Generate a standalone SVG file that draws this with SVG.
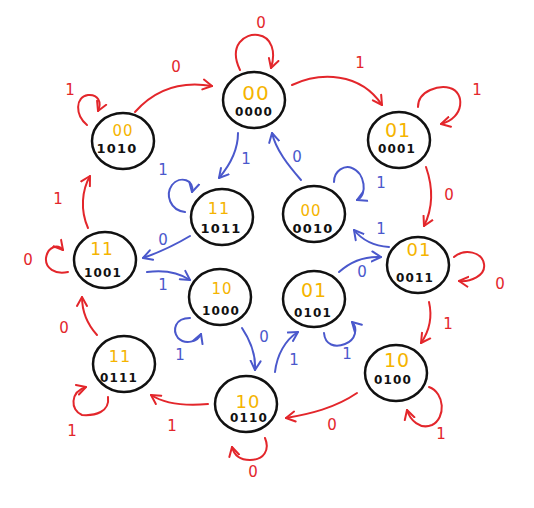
<svg xmlns="http://www.w3.org/2000/svg" width="534" height="508" viewBox="0 0 534 508">
<style>
.node ellipse{fill:#fff;stroke:#111;stroke-width:2.5}
.t{font-family:"DejaVu Sans",sans-serif;fill:#f5b400;text-anchor:middle;letter-spacing:1px}
.b{font-family:"DejaVu Sans",sans-serif;fill:#111;text-anchor:middle;font-weight:bold;letter-spacing:1.2px}
.r{fill:none;stroke:#e3262b;stroke-width:2;stroke-linecap:round;marker-end:url(#ar)}
.u{fill:none;stroke:#4a58cc;stroke-width:2;stroke-linecap:round;marker-end:url(#ab)}
.lr{font-family:"DejaVu Sans",sans-serif;font-size:15px;fill:#e3262b;text-anchor:middle}
.lb{font-family:"DejaVu Sans",sans-serif;font-size:15px;fill:#4a58cc;text-anchor:middle}
</style>
<defs>
<marker id="ar" markerUnits="userSpaceOnUse" markerWidth="14" markerHeight="14" refX="10" refY="6" orient="auto" viewBox="0 0 14 12">
<path d="M1,1 L10,6 L1,11" fill="none" stroke="#e3262b" stroke-width="2" stroke-linecap="round" stroke-linejoin="round"/>
</marker>
<marker id="ab" markerUnits="userSpaceOnUse" markerWidth="14" markerHeight="14" refX="10" refY="6" orient="auto" viewBox="0 0 14 12">
<path d="M1,1 L10,6 L1,11" fill="none" stroke="#4a58cc" stroke-width="2" stroke-linecap="round" stroke-linejoin="round"/>
</marker>
</defs>
<rect width="534" height="508" fill="#fff"/>
<g id="connectors">
<path class="r" d="M135,112 Q165,78 212,86"/>
<path class="r" d="M240,70 C228,45 245,33 258,35 C272,37 276,52 271,68"/>
<path class="r" d="M292,85 C320,72 360,72 382,105"/>
<path class="r" d="M418,107 C418,90 440,85 450,88 C465,92 465,118 441,124"/>
<path class="r" d="M426,167 C434,190 432,210 424,226"/>
<path class="r" d="M454,257 C465,248 482,252 484,264 C486,276 470,282 459,281"/>
<path class="r" d="M429,302 C432,315 430,330 421,343"/>
<path class="r" d="M429,387 C445,393 446,418 432,425 C420,430 410,420 407,410"/>
<path class="r" d="M357,393 C335,408 310,414 286,418"/>
<path class="r" d="M265,438 C270,450 264,460 250,460 C240,460 234,455 232,447"/>
<path class="r" d="M208,404 C185,406 165,404 151,395"/>
<path class="r" d="M108,397 C110,412 95,416 82,415 C70,410 70,392 86,387"/>
<path class="r" d="M97,335 C88,325 82,312 82,297"/>
<path class="r" d="M68,272 C55,275 45,268 46,258 C48,246 58,244 63,250"/>
<path class="r" d="M88,228 C80,210 82,190 90,176"/>
<path class="r" d="M87,125 C75,115 75,97 88,95 C98,94 102,102 98,111"/>
<path class="u" d="M238,133 C238,150 230,165 219,178"/>
<path class="u" d="M301,180 C288,165 276,150 272,133"/>
<path class="u" d="M334,182 C334,170 345,165 352,168 C365,173 368,195 357,200"/>
<path class="u" d="M185,212 C170,210 165,195 172,185 C180,175 195,180 192,192"/>
<path class="u" d="M190,236 C175,245 160,252 143,258"/>
<path class="u" d="M147,272 C162,270 178,272 190,280"/>
<path class="u" d="M190,318 C175,318 172,330 178,338 C185,345 198,342 201,334"/>
<path class="u" d="M242,328 C250,340 256,355 255,370"/>
<path class="u" d="M275,372 C277,355 285,340 298,332"/>
<path class="u" d="M324,333 C325,345 335,348 345,344 C356,340 358,328 352,322"/>
<path class="u" d="M339,272 C350,262 365,256 381,257"/>
<path class="u" d="M389,247 C375,246 362,240 354,230"/>
<text class="lr" x="176" y="72">0</text>
<text class="lr" x="261" y="28">0</text>
<text class="lr" x="360" y="68">1</text>
<text class="lr" x="477" y="95">1</text>
<text class="lr" x="449" y="200">0</text>
<text class="lr" x="500" y="289">0</text>
<text class="lr" x="448" y="329">1</text>
<text class="lr" x="441" y="439">1</text>
<text class="lr" x="332" y="430">0</text>
<text class="lr" x="253" y="477">0</text>
<text class="lr" x="172" y="431">1</text>
<text class="lr" x="72" y="436">1</text>
<text class="lr" x="64" y="333">0</text>
<text class="lr" x="28" y="265">0</text>
<text class="lr" x="58" y="204">1</text>
<text class="lr" x="70" y="95">1</text>
<text class="lb" x="246" y="164">1</text>
<text class="lb" x="297" y="162">0</text>
<text class="lb" x="381" y="188">1</text>
<text class="lb" x="163" y="175">1</text>
<text class="lb" x="163" y="245">0</text>
<text class="lb" x="163" y="290">1</text>
<text class="lb" x="180" y="360">1</text>
<text class="lb" x="264" y="342">0</text>
<text class="lb" x="294" y="365">1</text>
<text class="lb" x="347" y="359">1</text>
<text class="lb" x="362" y="277">0</text>
<text class="lb" x="381" y="234">1</text>
</g>
<g id="n0000" class="node"><ellipse cx="254" cy="100" rx="31" ry="28"/><text class="t" x="256" y="100" font-size="20">00</text><text class="b" x="254" y="116" font-size="12">0000</text></g>
<g id="n1010" class="node"><ellipse cx="123" cy="141" rx="31" ry="28"/><text class="t" x="123" y="136" font-size="15">00</text><text class="b" x="117" y="153" font-size="13">1010</text></g>
<g id="n0001" class="node"><ellipse cx="399" cy="140" rx="31" ry="28"/><text class="t" x="398" y="137" font-size="19">01</text><text class="b" x="397" y="153" font-size="12">0001</text></g>
<g id="n1011" class="node"><ellipse cx="222" cy="217" rx="31" ry="28"/><text class="t" x="219" y="214" font-size="16">11</text><text class="b" x="221" y="233" font-size="13">1011</text></g>
<g id="n0010" class="node"><ellipse cx="314" cy="214" rx="31" ry="28"/><text class="t" x="311" y="216" font-size="15">00</text><text class="b" x="313" y="233" font-size="13">0010</text></g>
<g id="n1001" class="node"><ellipse cx="105" cy="260" rx="31" ry="28"/><text class="t" x="102" y="255" font-size="17">11</text><text class="b" x="103" y="277" font-size="12">1001</text></g>
<g id="n1000" class="node"><ellipse cx="220" cy="297" rx="31" ry="28"/><text class="t" x="222" y="294" font-size="15">10</text><text class="b" x="221" y="315" font-size="12">1000</text></g>
<g id="n0101" class="node"><ellipse cx="314" cy="299" rx="31" ry="28"/><text class="t" x="314" y="297" font-size="19">01</text><text class="b" x="313" y="317" font-size="12">0101</text></g>
<g id="n0011" class="node"><ellipse cx="418" cy="265" rx="31" ry="28"/><text class="t" x="419" y="256" font-size="18">01</text><text class="b" x="415" y="282" font-size="12">0011</text></g>
<g id="n0100" class="node"><ellipse cx="396" cy="373" rx="31" ry="28"/><text class="t" x="397" y="367" font-size="19">10</text><text class="b" x="393" y="384" font-size="12">0100</text></g>
<g id="n0111" class="node"><ellipse cx="124" cy="364" rx="31" ry="28"/><text class="t" x="120" y="362" font-size="16">11</text><text class="b" x="119" y="382" font-size="12">0111</text></g>
<g id="n0110" class="node"><ellipse cx="246" cy="404" rx="31" ry="28"/><text class="t" x="248" y="408" font-size="18">10</text><text class="b" x="249" y="422" font-size="12">0110</text></g>
</svg>
